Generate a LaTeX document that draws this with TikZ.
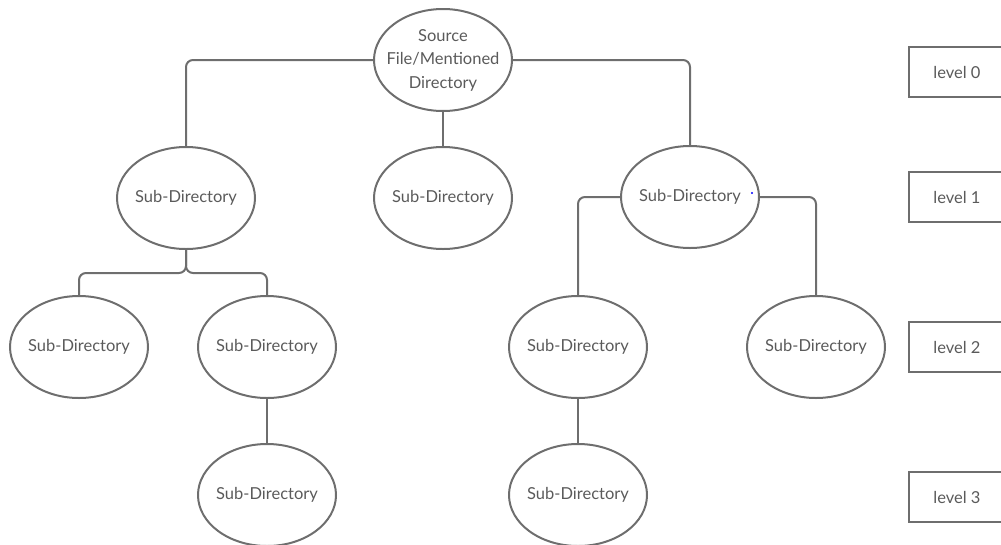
\documentclass[tikz,border=0pt]{standalone}
\usepackage{fontspec}
\setmainfont{Lato}
\usepackage{tikz}
\usetikzlibrary{shapes.geometric}
\definecolor{linegray}{HTML}{6E6E6E}
\definecolor{textgray}{HTML}{5A5A5A}

\begin{document}
\begin{tikzpicture}[x=1pt,y=-1pt,line width=2pt,
  dirnode/.style={ellipse,draw=linegray,minimum width=138pt,minimum height=102pt,inner sep=-15pt,
                  text=textgray,font=\fontsize{16.5}{23.5}\selectfont,align=center},
  levelbox/.style={rectangle,draw=linegray,line width=1.6pt,minimum width=96pt,minimum height=50pt,
                  text=textgray,font=\fontsize{16.5}{20}\selectfont},
  link/.style={draw=linegray,rounded corners=7pt}]
\useasboundingbox (0,0) rectangle (1001,544);

\node at (443,60) [dirnode] (root) {Source\\ File/Mentioned\\ Directory};

\node at (186,198) [dirnode] (sdA) {Sub-Directory};
\node at (443,198) [dirnode] (sdB) {Sub-Directory};
\node at (690,197) [dirnode] (sdC) {Sub-Directory};

\node at ( 79,347) [dirnode] (sdAA) {Sub-Directory};
\node at (267,347) [dirnode] (sdAB) {Sub-Directory};
\node at (578,347) [dirnode] (sdCA) {Sub-Directory};
\node at (816,347) [dirnode] (sdCB) {Sub-Directory};

\node at (267,495) [dirnode] (sdABA) {Sub-Directory};
\node at (578,495) [dirnode] (sdCAA) {Sub-Directory};

\node at (957, 72) [levelbox] (lvl0) {level 0};
\node at (957,197) [levelbox] (lvl1) {level 1};
\node at (957,347) [levelbox] (lvl2) {level 2};
\node at (957,497) [levelbox] (lvl3) {level 3};

\draw[link] (root.west) -| (sdA.north);
\draw[link] (root.east) -| (sdC.north);
\draw[link] (root) -- (sdB);

\draw[link] (sdA.south) -- ++(0,23) -| (sdAA.north);
\draw[link] (sdA.south) -- ++(0,23) -| (sdAB.north);
\draw[link] (sdAB) -- (sdABA);

\draw[link] (sdC.west) -| (sdCA.north);
\draw[link] (sdC.east) -| (sdCB.north);
\draw[link] (sdCA) -- (sdCAA);

\fill[blue] (752,193) circle (1.2);
\end{tikzpicture}
\end{document}
